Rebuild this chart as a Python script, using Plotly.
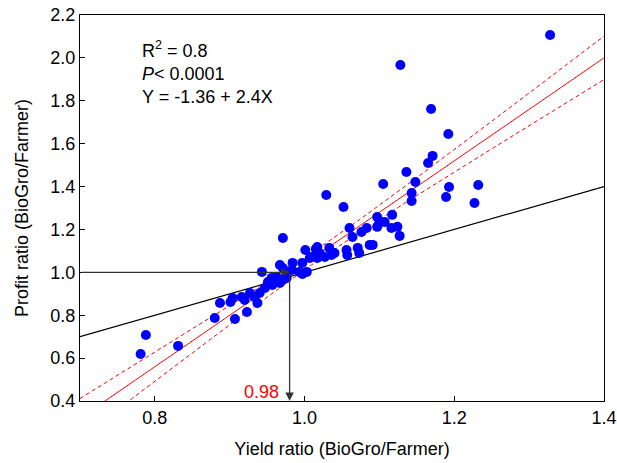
import numpy as np
import plotly.graph_objects as go

# Yield ratio (x) and profit ratio (y), BioGro / Farmer
yield_ratio = [0.781, 0.788, 0.831, 0.880, 0.887, 0.901, 0.904, 0.916, 0.907, 0.923,
               0.927, 0.933, 0.937, 0.940, 0.920, 0.947, 0.951, 0.956, 0.957, 0.963,
               0.967, 0.971, 0.976, 0.943, 0.967, 0.971, 0.984, 0.983, 0.993, 0.997,
               1.003, 0.971, 0.997, 1.001, 1.015, 1.009, 1.017, 1.017, 1.020, 1.033,
               1.036, 1.040, 1.056, 1.057, 1.071, 1.087, 1.091, 1.060, 1.064, 1.076,
               1.083, 1.097, 1.100, 1.107, 1.117, 1.116, 1.124, 1.127, 1.029, 1.052,
               1.105, 1.136, 1.148, 1.143, 1.143, 1.193, 1.189, 1.232, 1.227, 1.128,
               1.169, 1.192, 1.171, 1.165, 1.328, 1.097, 1.027, 1.007, 1.073]
profit_ratio = [0.619, 0.708, 0.657, 0.787, 0.857, 0.862, 0.880, 0.885, 0.782, 0.815,
                0.904, 0.885, 0.857, 0.904, 0.871, 0.927, 0.955, 0.974, 0.941, 0.978,
                0.950, 0.964, 0.974, 1.002, 1.034, 1.020, 1.044, 1.011, 1.002, 0.992,
                1.002, 1.160, 1.044, 1.104, 1.109, 1.072, 1.067, 1.118, 1.090, 1.114,
                1.081, 1.090, 1.104, 1.081, 1.114, 1.128, 1.128, 1.207, 1.165, 1.188,
                1.207, 1.258, 1.230, 1.235, 1.268, 1.207, 1.212, 1.170, 1.361, 1.305,
                1.412, 1.468, 1.421, 1.370, 1.333, 1.398, 1.351, 1.407, 1.323, 1.967,
                1.762, 1.645, 1.543, 1.510, 2.107, 1.212, 1.072, 1.067, 1.090]

# Regression reported on chart: Y = -1.36 + 2.4X
intercept = -1.36
slope = 2.4
t_crit = 1.99

# 1:1 reference line
one_to_one = [0.7, 1.4]

# Break-even yield ratio
break_even_x = 0.98
break_even_y = 1.0

x_range = [0.7, 1.4]
y_range = [0.4, 2.2]

xd = np.array(yield_ratio)
yd = np.array(profit_ratio)
n = len(xd)
resid = yd - (intercept + slope * xd)
s = np.sqrt(np.sum(resid ** 2) / (n - 2))
xm = xd.mean()
sxx = np.sum((xd - xm) ** 2)

xl = np.linspace(x_range[0], x_range[1], 200)
yl = intercept + slope * xl
hw = t_crit * s * np.sqrt(1.0 / n + (xl - xm) ** 2 / sxx)

fig = go.Figure()

fig.add_trace(go.Scatter(x=one_to_one, y=one_to_one, mode="lines",
                         line=dict(color="black", width=1.2), hoverinfo="skip"))
fig.add_trace(go.Scatter(x=xl, y=yl + hw, mode="lines",
                         line=dict(color="red", width=1, dash="4px,3px"), hoverinfo="skip"))
fig.add_trace(go.Scatter(x=xl, y=yl - hw, mode="lines",
                         line=dict(color="red", width=1, dash="4px,3px"), hoverinfo="skip"))
fig.add_trace(go.Scatter(x=xl, y=yl, mode="lines",
                         line=dict(color="red", width=1), hoverinfo="skip"))
fig.add_trace(go.Scatter(x=yield_ratio, y=profit_ratio, mode="markers",
                         marker=dict(color="#0000FF", size=10, line=dict(width=0))))

font_family = "Liberation Sans, Arial, sans-serif"

annotations = [
    dict(x=break_even_x, y=break_even_y, ax=x_range[0], ay=break_even_y,
         xref="x", yref="y", axref="x", ayref="y", text="", showarrow=True,
         arrowhead=2, arrowsize=1.3, arrowwidth=1.3, arrowcolor="#333333"),
    dict(x=break_even_x, y=y_range[0], ax=break_even_x, ay=break_even_y,
         xref="x", yref="y", axref="x", ayref="y", text="", showarrow=True,
         arrowhead=2, arrowsize=1.3, arrowwidth=1.3, arrowcolor="#333333"),
    dict(x=break_even_x, y=y_range[0], xref="x", yref="y", text=f"{break_even_x:.2f}",
         showarrow=False, xanchor="right", yanchor="bottom", xshift=-9, yshift=-3,
         font=dict(color="red", size=18, family=font_family)),
    dict(x=0.115, y=0.945, xref="paper", yref="paper", xanchor="left", yanchor="top",
         align="left", showarrow=False,
         text=f"R<sup>2</sup> = 0.8<br><i>P</i>< 0.0001<br>Y = {intercept:.2f} + {slope:.1f}X",
         font=dict(size=18, color="black", family=font_family)),
]

fig.update_layout(
    width=617, height=463,
    margin=dict(l=80, r=13, t=15, b=62, autoexpand=False),
    paper_bgcolor="white", plot_bgcolor="white",
    showlegend=False,
    font=dict(family=font_family, size=18, color="black"),
    annotations=annotations,
)
fig.update_xaxes(range=x_range, tick0=0.8, dtick=0.2, tickformat=".1f",
                 ticks="inside", ticklen=5, tickcolor="black", automargin=False,
                 showline=True, linecolor="black", linewidth=1.2, mirror=True,
                 showgrid=False, zeroline=False,
                 title=dict(text="Yield ratio (BioGro/Farmer)", font=dict(size=18), standoff=15))
fig.update_yaxes(range=y_range, dtick=0.2, tickformat=".1f",
                 ticks="inside", ticklen=5, tickcolor="black", automargin=False,
                 showline=True, linecolor="black", linewidth=1.2, mirror=True,
                 showgrid=False, zeroline=False,
                 title=dict(text="Profit ratio (BioGro/Farmer)", font=dict(size=18), standoff=16))

fig.write_html("out.html", config={"displayModeBar": False},
               post_script="document.body.style.margin='0';document.body.style.overflow='hidden';")
